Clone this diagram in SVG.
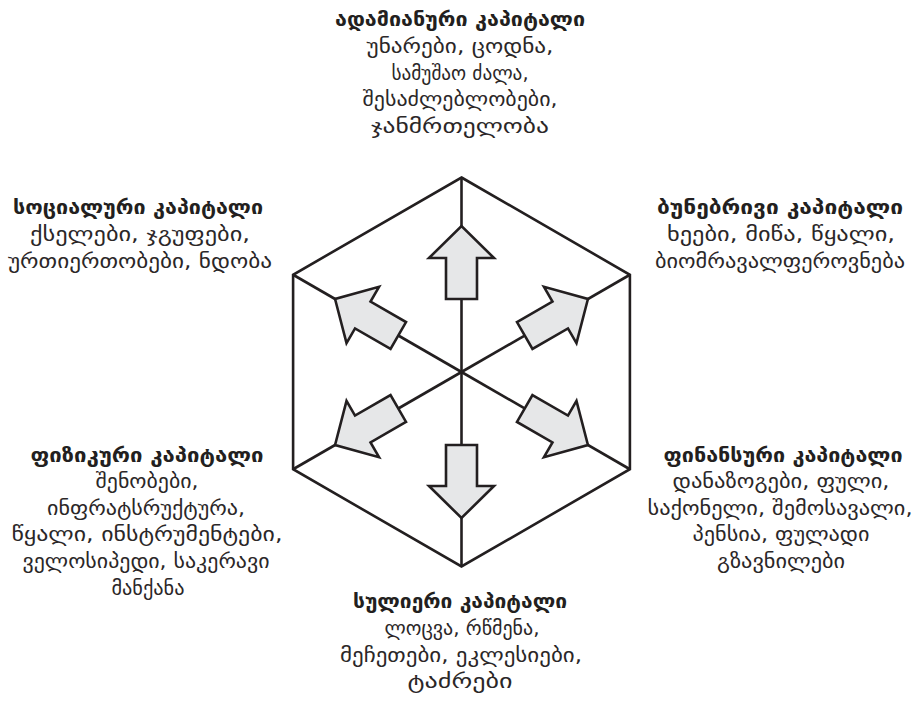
<svg xmlns="http://www.w3.org/2000/svg" width="919" height="709" viewBox="0 0 919 709">
<defs>
<style>
.t{font-family:"DejaVu Sans","Noto Sans",sans-serif;font-size:20px;font-weight:bold;fill:#231f20;text-anchor:middle}
.b{font-family:"DejaVu Sans","Noto Sans",sans-serif;font-size:20px;fill:#2b2728;text-anchor:middle}
.ln{stroke:#231f20;stroke-width:2.6;fill:none;stroke-linejoin:miter}
.ar{fill:#e6e7e8;stroke:#231f20;stroke-width:2.6;stroke-linejoin:miter}
</style>
<path id="arrow" d="M -15.5,-73 L -15.5,-114 L -32.5,-114 L 0,-146 L 32.5,-114 L 15.5,-114 L 15.5,-73 Z"/>
</defs>
<rect width="919" height="709" fill="#ffffff"/>
<g id="hexagon">
<polygon class="ln" points="461.5,177.5 629.9,274.75 629.9,469.25 461.5,566.5 293.1,469.25 293.1,274.75"/>
</g>
<g id="connectors">
<g class="ln">
<line x1="461.5" y1="372" x2="461.5" y2="177.5"/>
<line x1="461.5" y1="372" x2="629.9" y2="274.75"/>
<line x1="461.5" y1="372" x2="629.9" y2="469.25"/>
<line x1="461.5" y1="372" x2="461.5" y2="566.5"/>
<line x1="461.5" y1="372" x2="293.1" y2="469.25"/>
<line x1="461.5" y1="372" x2="293.1" y2="274.75"/>
</g>
<g transform="translate(461.5,372)">
<use href="#arrow" class="ar"/>
<use href="#arrow" class="ar" transform="rotate(60)"/>
<use href="#arrow" class="ar" transform="rotate(120)"/>
<use href="#arrow" class="ar" transform="rotate(180)"/>
<use href="#arrow" class="ar" transform="rotate(240)"/>
<use href="#arrow" class="ar" transform="rotate(300)"/>
</g>
</g>
<g id="human">
<text class="t" x="460" y="26" textLength="250" lengthAdjust="spacingAndGlyphs">ადამიანური კაპიტალი</text>
<text class="b" x="460" y="53" textLength="187" lengthAdjust="spacingAndGlyphs">უნარები, ცოდნა,</text>
<text class="b" x="460" y="80" textLength="137" lengthAdjust="spacingAndGlyphs">სამუშაო ძალა,</text>
<text class="b" x="460" y="106" textLength="195" lengthAdjust="spacingAndGlyphs">შესაძლებლობები,</text>
<text class="b" x="460" y="133" textLength="178" lengthAdjust="spacingAndGlyphs">ჯანმრთელობა</text>
</g>
<g id="social">
<text class="t" x="138" y="214" textLength="250" lengthAdjust="spacingAndGlyphs">სოციალური კაპიტალი</text>
<text class="b" x="140" y="241" textLength="220" lengthAdjust="spacingAndGlyphs">ქსელები, ჯგუფები,</text>
<text class="b" x="140" y="268" textLength="264" lengthAdjust="spacingAndGlyphs">ურთიერთობები, ნდობა</text>
</g>
<g id="natural">
<text class="t" x="780" y="214" textLength="246" lengthAdjust="spacingAndGlyphs">ბუნებრივი კაპიტალი</text>
<text class="b" x="781" y="241" textLength="228" lengthAdjust="spacingAndGlyphs">ხეები, მიწა, წყალი,</text>
<text class="b" x="780" y="268" textLength="250" lengthAdjust="spacingAndGlyphs">ბიომრავალფეროვნება</text>
</g>
<g id="physical">
<text class="t" x="147" y="462" textLength="233" lengthAdjust="spacingAndGlyphs">ფიზიკური კაპიტალი</text>
<text class="b" x="147" y="488" textLength="103" lengthAdjust="spacingAndGlyphs">შენობები,</text>
<text class="b" x="146" y="515" textLength="198" lengthAdjust="spacingAndGlyphs">ინფრატსრუქტურა,</text>
<text class="b" x="147" y="541" textLength="271" lengthAdjust="spacingAndGlyphs">წყალი, ინსტრუმენტები,</text>
<text class="b" x="146" y="568" textLength="247" lengthAdjust="spacingAndGlyphs">ველოსიპედი, საკერავი</text>
<text class="b" x="148" y="595" textLength="73" lengthAdjust="spacingAndGlyphs">მანქანა</text>
</g>
<g id="financial">
<text class="t" x="783" y="462" textLength="239" lengthAdjust="spacingAndGlyphs">ფინანსური კაპიტალი</text>
<text class="b" x="781" y="488" textLength="217" lengthAdjust="spacingAndGlyphs">დანაზოგები, ფული,</text>
<text class="b" x="780" y="515" textLength="265" lengthAdjust="spacingAndGlyphs">საქონელი, შემოსავალი,</text>
<text class="b" x="781" y="541" textLength="177" lengthAdjust="spacingAndGlyphs">პენსია, ფულადი</text>
<text class="b" x="781" y="568" textLength="128" lengthAdjust="spacingAndGlyphs">გზავნილები</text>
</g>
<g id="spiritual">
<text class="t" x="460" y="608" textLength="214" lengthAdjust="spacingAndGlyphs">სულიერი კაპიტალი</text>
<text class="b" x="462" y="635" textLength="155" lengthAdjust="spacingAndGlyphs">ლოცვა, რწმენა,</text>
<text class="b" x="461" y="662" textLength="242" lengthAdjust="spacingAndGlyphs">მეჩეთები, ეკლესიები,</text>
<text class="b" x="460" y="688" textLength="105" lengthAdjust="spacingAndGlyphs">ტაძრები</text>
</g>
</svg>
